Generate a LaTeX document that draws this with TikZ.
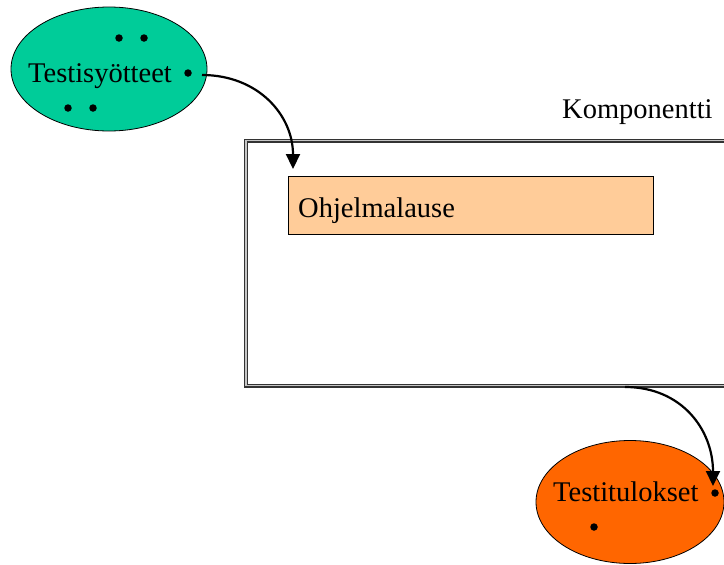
\documentclass[tikz,border=0pt]{standalone}
\usepackage{fontspec}
\setmainfont{Liberation Serif}
\usetikzlibrary{arrows.meta,shapes.geometric}
\definecolor{inputgreen}{HTML}{00CC99}
\definecolor{outorange}{HTML}{FF6600}
\definecolor{stmtfill}{HTML}{FFCC99}
\tikzset{
  lbl/.style={anchor=base west, inner sep=0pt, font=\fontsize{28.5}{34}\selectfont},
  dotnode/.style={circle, fill=black, inner sep=0pt, minimum size=7.5pt},
  blob/.style={ellipse, draw=black, line width=0.8pt, inner sep=0pt},
  arr/.style={line width=2.2pt, -{Triangle[length=15pt,width=14pt]}},
}
\begin{document}
\begin{tikzpicture}[x=1pt,y=-1pt]
\useasboundingbox (0,0) rectangle (724,565);
\clip (0,0) rectangle (724,565);
% component frame (runs past right edge)
\node[draw=black!80, double=gray!45, double distance=1.8pt, line width=1.1pt,
      minimum width=500pt, minimum height=245pt, inner sep=0pt, anchor=north west]
      (comp) at (245.5,140) {};
\node[lbl] (complbl) at (562,118) {Komponentti};
% statement box
\node[draw=black, fill=stmtfill, line width=0.6pt, minimum width=365pt, minimum height=58pt,
      inner sep=0pt, anchor=north west] (stmt) at (288,176) {};
\node[lbl] (stmtlbl) at (298,217) {Ohjelmalause};
% inputs ellipse
\node[blob, fill=inputgreen, minimum width=196pt, minimum height=124pt] (inp) at (109,69) {};
\node[lbl] (inplbl) at (28,82) {Testisyötteet};
\node[dotnode] (i1) at (119,38) {};
\node[dotnode] (i2) at (144,38) {};
\node[dotnode] (i3) at (188,73) {};
\node[dotnode] (i4) at (68,108) {};
\node[dotnode] (i5) at (93,108) {};
% outputs ellipse
\node[blob, fill=outorange, minimum width=188pt, minimum height=123pt] (out) at (630,502) {};
\node[lbl] (outlbl) at (553,501) {Testitulokset};
\node[dotnode] (o1) at (715,493) {};
\node[dotnode] (o2) at (594,527) {};
% connectors
\coordinate (a1s) at (202,75);
\coordinate (a1e) at (293,169);
\draw[arr] (a1s) .. controls (258,75) and (293,115) .. (a1e);
\coordinate (a2s) at (625,387);
\coordinate (a2e) at (713,486);
\draw[arr] (a2s) .. controls (682,387) and (713,430) .. (a2e);
\end{tikzpicture}
\end{document}
